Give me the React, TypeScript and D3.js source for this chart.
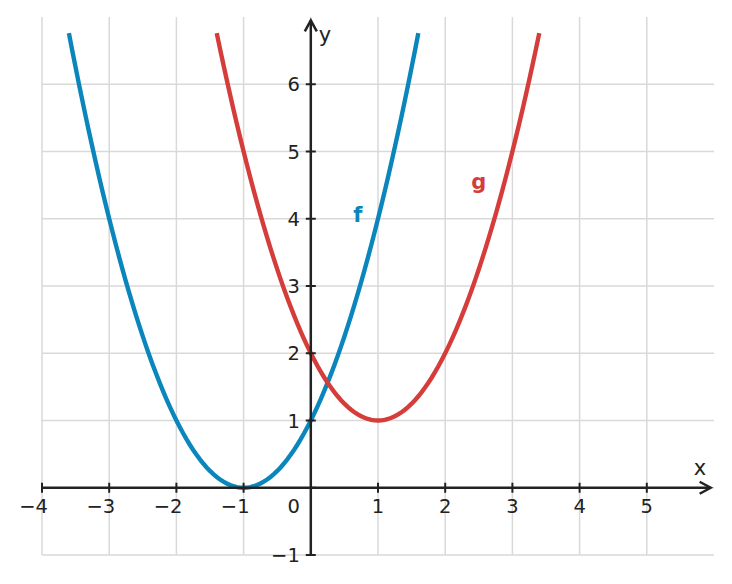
import React from 'react';
import * as d3 from 'd3';

const xTicks = [-4, -3, -2, -1, 1, 2, 3, 4, 5];
const yTicks = [-1, 1, 2, 3, 4, 5, 6];
const gridX = [-4, -3, -2, -1, 0, 1, 2, 3, 4, 5];
const gridY = [-1, 0, 1, 2, 3, 4, 5, 6];

// sampled curve points (x, y)
const fXs = d3.range(-3.6, 1.6001, 0.05);
const gXs = d3.range(-1.4, 3.4001, 0.05);
const fPts: [number, number][] = fXs.map(x => [x, (x + 1) * (x + 1)]);
const gPts: [number, number][] = gXs.map(x => [x, (x - 1) * (x - 1) + 1]);

const curveLabels = [
  { name: 'f', x: 0.7, y: 4.06, color: '#0a86bd' },
  { name: 'g', x: 2.5, y: 4.55, color: '#d43d3a' },
];

const fmt = (t: number) => d3.format('d')(t).replace('-', '\u2212');

export default function App() {
  const W = 732, H = 584;
  const x = d3.scaleLinear().domain([-4, 6]).range([42, 714]);
  const y = d3.scaleLinear().domain([-1, 7]).range([555, 17]);
  const line = d3.line<[number, number]>().x(d => x(d[0])).y(d => y(d[1]));
  const font = 'DejaVu Sans, sans-serif';
  const axisCol = '#222';
  const fs = 19.5;

  return (
    <svg width={W} height={H} style={{ position: 'absolute', left: 0, top: 0 }}>
      <rect width={W} height={H} fill="#fff" />
      <g stroke="#d9d9d9" strokeWidth={1.5}>
        {gridX.map(t => <line key={'gx' + t} x1={x(t)} x2={x(t)} y1={y(7)} y2={y(-1)} />)}
        {gridY.map(t => <line key={'gy' + t} x1={x(-4)} x2={x(6)} y1={y(t)} y2={y(t)} />)}
      </g>
      <path d={line(fPts) || ''} fill="none" stroke="#0a86bd" strokeWidth={4.4} />
      <path d={line(gPts) || ''} fill="none" stroke="#d43d3a" strokeWidth={4.4} />
      {/* axes */}
      <line x1={x(-4)} x2={x(5.95)} y1={y(0)} y2={y(0)} stroke={axisCol} strokeWidth={2.5} />
      <line x1={x(0)} x2={x(0)} y1={y(-1)} y2={y(6.95)} stroke={axisCol} strokeWidth={2.5} />
      <path d={`M${x(5.95) - 11},${y(0) - 6} L${x(5.95)},${y(0)} L${x(5.95) - 11},${y(0) + 6}`} fill="none" stroke={axisCol} strokeWidth={2.5} />
      <path d={`M${x(0) - 6},${y(6.95) + 11} L${x(0)},${y(6.95)} L${x(0) + 6},${y(6.95) + 11}`} fill="none" stroke={axisCol} strokeWidth={2.5} />
      <g stroke={axisCol} strokeWidth={2}>
        {xTicks.map(t => <line key={'tx' + t} x1={x(t)} x2={x(t)} y1={y(0) - 5} y2={y(0) + 5} />)}
        {yTicks.map(t => <line key={'ty' + t} x1={x(0) - 5} x2={x(0) + 5} y1={y(t)} y2={y(t)} />)}
        <line x1={x(0)} x2={x(0) + 5} y1={y(0)} y2={y(0)} />
      </g>
      <g fontFamily={font} fontSize={fs} fill="#222">
        {xTicks.map(t => (
          <text key={'lx' + t} x={t < 0 ? x(t) + 6 : x(t)} y={y(0) + 25.5} textAnchor={t < 0 ? 'end' : 'middle'}>{fmt(t)}</text>
        ))}
        {yTicks.map(t => (
          <text key={'ly' + t} x={x(0) - 11} y={y(t) + 7} textAnchor="end">{fmt(t)}</text>
        ))}
        <text x={x(0) - 11} y={y(0) + 25.5} textAnchor="end">0</text>
        <text x={x(0) + 8} y={42} fontSize={21}>y</text>
        <text x={700} y={y(0) - 13} fontSize={21} textAnchor="middle">x</text>
      </g>
      {curveLabels.map(l => (
        <text key={l.name} x={x(l.x)} y={y(l.y) + 7} textAnchor="middle" fontFamily={font} fontWeight="bold" fontSize={21} fill={l.color}>{l.name}</text>
      ))}
    </svg>
  );
}
